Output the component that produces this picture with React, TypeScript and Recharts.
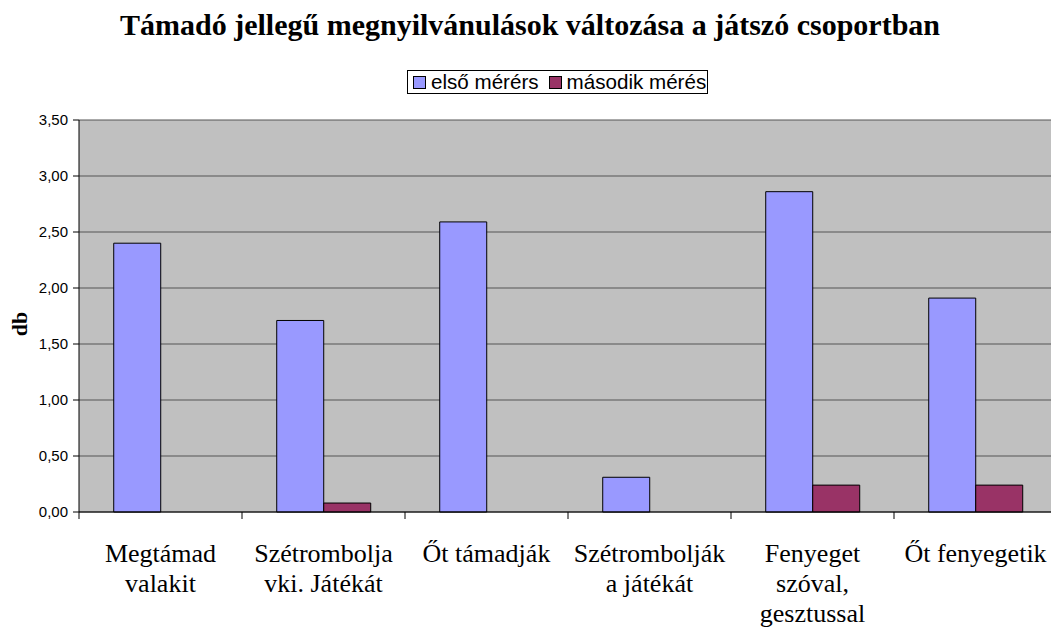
import React from 'react'
import { BarChart, Bar, XAxis, YAxis, CartesianGrid, Legend } from 'recharts'

const categories = [
  'Megtámad\nvalakit',
  'Szétrombolja\nvki. Játékát',
  'Őt támadják',
  'Szétrombolják\na játékát',
  'Fenyeget\nszóval,\ngesztussal',
  'Őt fenyegetik',
]
const firstMeasure = [2.4, 1.71, 2.59, 0.31, 2.86, 1.91]
const secondMeasure = [0, 0.08, 0, 0, 0.24, 0.24]
const yTicks = [0, 0.5, 1, 1.5, 2, 2.5, 3, 3.5]

const seriesInfo = [
  { key: 'first', name: 'első mérérs', color: '#9999FF' },
  { key: 'second', name: 'második mérés', color: '#993366' },
]

const data = categories.map((name, i) => ({
  name,
  first: firstMeasure[i],
  second: secondMeasure[i],
}))

const serif = '"Liberation Serif", "Times New Roman", serif'
const sans = '"Liberation Sans", Arial, sans-serif'

function CategoryTick(props: any) {
  const { x, y, payload } = props
  const half = payload.offset ?? 81.5
  const lines = String(payload.value).split('\n')
  return (
    <g>
      <line x1={x - half} y1={y} x2={x - half} y2={y + 7} stroke="#000" />
      <text
        x={x}
        y={y + 50}
        textAnchor="middle"
        fill="#000"
        style={{ fontFamily: serif, fontSize: 26 }}
      >
        {lines.map((l, i) => (
          <tspan key={i} x={x} dy={i === 0 ? 0 : 30}>
            {l}
          </tspan>
        ))}
      </text>
    </g>
  )
}

function LegendBox() {
  return (
    <div
      style={{
        display: 'flex',
        alignItems: 'center',
        border: '1px solid #000',
        background: '#fff',
        height: 22,
        padding: '0 1px 0 5px',
        fontFamily: sans,
        fontSize: 20.6,
        whiteSpace: 'nowrap',
      }}
    >
      {seriesInfo.map((s, i) => (
        <span key={s.key} style={{ display: 'flex', alignItems: 'center', marginLeft: i ? 10 : 0 }}>
          <span
            style={{
              width: 11,
              height: 11,
              background: s.color,
              border: '1px solid #000',
              marginRight: 5,
            }}
          />
          {s.name}
        </span>
      ))}
    </div>
  )
}

function YLabel(props: any) {
  const vb = props.viewBox
  const cx = vb.x + 19
  const cy = vb.y + vb.height / 2 + 8
  return (
    <text
      x={cx}
      y={cy}
      transform={`rotate(-90 ${cx} ${cy})`}
      textAnchor="middle"
      dominantBaseline="central"
      fill="#000"
      style={{ fontFamily: serif, fontWeight: 'bold', fontSize: 22 }}
    >
      db
    </text>
  )
}

export default function App() {
  return (
    <div
      style={{
        position: 'fixed',
        left: 0,
        top: 0,
        width: 1051,
        height: 629,
        overflow: 'hidden',
        background: '#fff',
      }}
    >
      <div
        style={{
          position: 'absolute',
          left: 0,
          top: 8,
          width: 1060,
          textAlign: 'center',
          fontFamily: serif,
          fontWeight: 'bold',
          fontSize: 30,
          lineHeight: '34px',
        }}
      >
        Támadó jellegű megnyilvánulások változása a játszó csoportban
      </div>
      <BarChart
        width={1068}
        height={629}
        data={data}
        margin={{ top: 120, right: 11, bottom: 0, left: 0 }}
        barCategoryGap="21.3%"
        barGap={0}
      >
        <CartesianGrid vertical={false} stroke="#555" fill="#C0C0C0" />
        <XAxis
          dataKey="name"
          interval={0}
          height={117}
          tickSize={0}
          tickMargin={0}
          tickLine={false}
          axisLine={{ stroke: '#000' }}
          tick={<CategoryTick />}
        />
        <YAxis
          width={79}
          domain={[0, 3.5]}
          ticks={yTicks}
          interval={0}
          tickSize={6}
          tickMargin={5}
          axisLine={{ stroke: '#000' }}
          tickLine={{ stroke: '#000' }}
          tick={{ fill: '#000', fontFamily: sans, fontSize: 15 }}
          tickFormatter={(v: number) => v.toFixed(2).replace('.', ',')}
          label={<YLabel />}
        />
        <Legend
          verticalAlign="middle"
          align="center"
          layout="horizontal"
          content={<LegendBox />}
          wrapperStyle={{ position: 'absolute', left: 407, top: 70, width: 'auto' }}
        />
        {seriesInfo.map((s) => (
          <Bar
            key={s.key}
            dataKey={s.key}
            name={s.name}
            fill={s.color}
            stroke="#000"
            strokeWidth={1}
            isAnimationActive={false}
          />
        ))}
      </BarChart>
    </div>
  )
}
